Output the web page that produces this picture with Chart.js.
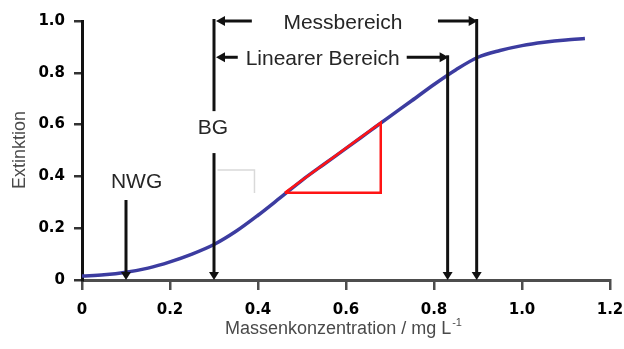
<!DOCTYPE html>
<html>
<head>
<meta charset="utf-8">
<script src="https://cdn.jsdelivr.net/npm/chart.js@4/dist/chart.umd.min.js"></script>
<style>
  html, body { margin: 0; padding: 0; background: #fff; }
  canvas { display: block; }
</style>
</head>
<body>
<canvas id="c" width="624" height="349"></canvas>
<script>
// Calibration curve: absorbance (Extinktion) vs. mass concentration
const concentration = [0, 0.05, 0.1, 0.15, 0.2, 0.25, 0.3, 0.35, 0.4, 0.45, 0.5, 0.55, 0.6,
                       0.65, 0.7, 0.75, 0.8, 0.85, 0.9, 0.95, 1.0, 1.05, 1.1, 1.143];
const extinction = [0.015, 0.02, 0.03, 0.046, 0.07, 0.1, 0.137, 0.188, 0.25, 0.317, 0.385, 0.447, 0.508,
                    0.57, 0.632, 0.693, 0.755, 0.812, 0.86, 0.886, 0.905, 0.918, 0.927, 0.932];

// Slope triangle on the linear part
const triangleX = [0.461, 0.679, 0.679, 0.461];
const triangleY = [0.337, 0.337, 0.607, 0.337];

// Axis ticks
const xTickValues = [0, 0.2, 0.4, 0.6, 0.8, 1.0, 1.2];
const xTickLabels = ['0', '0.2', '0.4', '0.6', '0.8', '1.0', '1.2'];
const yTickValues = [0, 0.2, 0.4, 0.6, 0.8, 1.0];
const yTickLabels = ['0', '0.2', '0.4', '0.6', '0.8', '1.0'];

// Detection limits (Nachweisgrenze, Bestimmungsgrenze)
const limitNames = ['NWG', 'BG'];
const limitX = [0.1, 0.3];

// Working ranges: both start at BG
const rangeNames = ['Linearer Bereich', 'Messbereich'];
const rangeFrom = [0.3, 0.3];
const rangeTo = [0.831, 0.897];

const xTitle = 'Massenkonzentration / mg L';
const xTitleSup = '-1';
const yTitle = 'Extinktion';

const FONT = "'Liberation Sans', Arial, sans-serif";

function toPoints(xs, ys) { return xs.map((v, i) => ({ x: v, y: ys[i] })); }

// Draws arrows, limit labels and axis titles on top of the data
const annotations = {
  id: 'annotations',
  afterDraw(chart) {
    const ctx = chart.ctx;
    const xs = chart.scales.x, ys = chart.scales.y;
    const px = v => xs.getPixelForValue(v);
    const py = v => ys.getPixelForValue(v);
    const base = py(0);

    ctx.save();
    ctx.strokeStyle = '#111';
    ctx.fillStyle = '#111';
    ctx.lineWidth = 3;
    ctx.lineCap = 'butt';

    function line(x0, y0, x1, y1) {
      ctx.beginPath(); ctx.moveTo(x0, y0); ctx.lineTo(x1, y1); ctx.stroke();
    }
    function downArrow(x, yTop, yTip) {
      line(x, yTop, x, yTip - 6);
      ctx.beginPath();
      ctx.moveTo(x - 5, yTip - 8); ctx.lineTo(x + 5, yTip - 8); ctx.lineTo(x, yTip); ctx.closePath();
      ctx.fill();
    }
    function hArrow(xFrom, xTip, y) {
      const d = Math.sign(xTip - xFrom);
      line(xFrom, y, xTip - d * 6, y);
      ctx.beginPath();
      ctx.moveTo(xTip - d * 9, y - 5); ctx.lineTo(xTip - d * 9, y + 5); ctx.lineTo(xTip, y); ctx.closePath();
      ctx.fill();
    }

    // light guide bracket near the curve
    ctx.save();
    ctx.strokeStyle = '#d9d9d9';
    ctx.lineWidth = 1.5;
    ctx.beginPath();
    ctx.moveTo(px(0.308), py(0.425)); ctx.lineTo(px(0.392), py(0.425)); ctx.lineTo(px(0.392), py(0.336));
    ctx.stroke();
    ctx.restore();

    // NWG
    const xN = px(limitX[0]);
    downArrow(xN, py(0.309), base);
    // BG
    const xB = px(limitX[1]);
    line(xB, py(1.0) - 2, xB, py(0.652));
    downArrow(xB, py(0.49), base);

    // range ends
    const xL = px(rangeTo[0]);
    const xM = px(rangeTo[1]);
    const yL = py(0.86);
    const yM = py(1.0);
    downArrow(xL, yL - 2, base);
    downArrow(xM, yM - 2, base);

    // horizontal arrows
    hArrow(px(0.386), px(rangeFrom[1]) + 2, yM);
    hArrow(px(0.809), xM + 1, yM);
    hArrow(px(0.354), px(rangeFrom[0]) + 2, yL);
    hArrow(px(0.738), xL + 1, yL);

    // texts
    ctx.fillStyle = '#262626';
    ctx.font = '21px ' + FONT;
    ctx.textAlign = 'center';
    ctx.textBaseline = 'middle';
    ctx.fillText(rangeNames[1], px(0.593), yM + 2);
    ctx.fillText(rangeNames[0], px(0.547), yL + 2);
    ctx.fillText(limitNames[0], px(0.124), py(0.378));
    ctx.fillText(limitNames[1], xB - 1, py(0.587));

    // axis titles
    ctx.fillStyle = '#4a4a4a';
    ctx.font = '18px ' + FONT;
    const tw = ctx.measureText(xTitle).width;
    ctx.font = '11px ' + FONT;
    const sw = ctx.measureText(xTitleSup).width;
    const tx = 343 - (tw + sw) / 2;
    ctx.textAlign = 'left';
    ctx.textBaseline = 'alphabetic';
    ctx.font = '18px ' + FONT;
    ctx.fillText(xTitle, tx, 334);
    ctx.font = '11px ' + FONT;
    ctx.fillText(xTitleSup, tx + tw + 1, 326);

    ctx.save();
    ctx.translate(20, 150);
    ctx.rotate(-Math.PI / 2);
    ctx.font = '18px ' + FONT;
    ctx.textAlign = 'center';
    ctx.textBaseline = 'middle';
    ctx.fillText(yTitle, 0, 0);
    ctx.restore();

    ctx.restore();
  }
};

const tickFont = { family: "'DejaVu Sans', sans-serif", size: 15, weight: 'bold' };

new Chart(document.getElementById('c'), {
  type: 'scatter',
  data: {
    datasets: [
      {
        data: toPoints(triangleX, triangleY),
        showLine: true,
        borderColor: '#ff1414',
        borderWidth: 2.5,
        pointRadius: 0,
        tension: 0
      },
      {
        data: toPoints(concentration, extinction),
        showLine: true,
        borderColor: '#3c3ca0',
        borderWidth: 3.5,
        pointRadius: 0,
        cubicInterpolationMode: 'monotone'
      }
    ]
  },
  options: {
    responsive: false,
    animation: false,
    layout: { padding: { top: 21, right: 14, left: 0, bottom: 0 } },
    plugins: { legend: { display: false }, tooltip: { enabled: false } },
    scales: {
      x: {
        type: 'linear',
        min: 0,
        max: 1.2,
        afterBuildTicks: s => { s.ticks = xTickValues.map(v => ({ value: v })); },
        afterFit: s => { s.height = 69; s.paddingLeft = 0; s.paddingRight = 0; },
        grid: { drawOnChartArea: false, drawTicks: true, tickLength: 10, color: '#4d4d4d', lineWidth: 2.5 },
        border: { display: true, color: '#4d4d4d', width: 3 },
        ticks: {
          autoSkip: false, maxRotation: 0, padding: 11, color: '#000', font: tickFont,
          callback: (v, i) => xTickLabels[i]
        }
      },
      y: {
        type: 'linear',
        min: 0,
        max: 1.0,
        afterBuildTicks: s => { s.ticks = yTickValues.map(v => ({ value: v })); },
        afterFit: s => { s.width = 82; s.paddingTop = 0; s.paddingBottom = 0; },
        grid: { drawOnChartArea: false, drawTicks: true, tickLength: 8, color: '#333', lineWidth: 2.5 },
        border: { display: true, color: '#111', width: 3 },
        ticks: {
          autoSkip: false, padding: 9, color: '#000', font: tickFont,
          callback: (v, i) => yTickLabels[i]
        }
      }
    }
  },
  plugins: [annotations]
});
</script>
</body>
</html>
